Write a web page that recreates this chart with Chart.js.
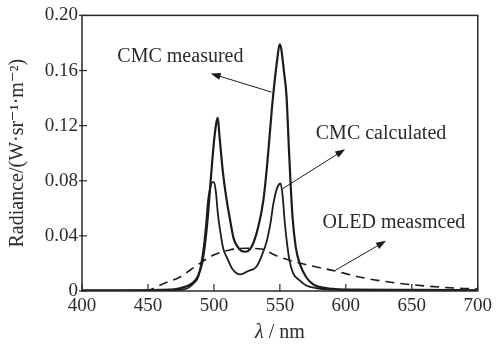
<!DOCTYPE html>
<html>
<head>
<meta charset="utf-8">
<script src="https://cdn.jsdelivr.net/npm/chart.js@4/dist/chart.umd.min.js"></script>
<style>
  html, body { margin: 0; padding: 0; background: #fff; }
  #wrap { width: 496px; height: 351px; }
</style>
</head>
<body>
<div id="wrap"><canvas id="spec"></canvas></div>
<script>
// wavelengths (nm) and radiance values
const measuredNm  = [400, 440, 460, 470, 478, 484, 488, 491, 493, 495.3, 497.7, 500, 502, 503, 504, 506.5, 508, 510, 512, 515, 518, 521, 524, 527, 530, 534, 537.5, 540, 542, 544, 546, 548, 549.8, 551, 553, 555, 557, 559.5, 562, 565, 570, 575, 580, 590, 600, 650, 700];
const measuredVal = [0.0005, 0.0005, 0.0008, 0.0012, 0.003, 0.006, 0.011, 0.02, 0.032, 0.053, 0.082, 0.108, 0.123, 0.1257, 0.115, 0.089, 0.077, 0.064, 0.053, 0.038, 0.032, 0.029, 0.0285, 0.03, 0.035, 0.048, 0.066, 0.088, 0.11, 0.133, 0.152, 0.168, 0.179, 0.176, 0.16, 0.142, 0.1, 0.055, 0.032, 0.02, 0.01, 0.005, 0.003, 0.0015, 0.001, 0.0008, 0.0005];

const calcNm  = [400, 460, 475, 480, 484, 488, 490, 492, 494, 495.5, 497, 499, 500, 501.5, 503, 505, 507, 510, 514, 520, 526, 532, 536, 540, 543, 545, 548, 550.5, 552, 553.6, 555.5, 557.3, 560, 564.7, 570, 578, 590, 650, 700];
const calcVal = [0.0003, 0.0005, 0.001, 0.002, 0.005, 0.01, 0.018, 0.03, 0.048, 0.065, 0.074, 0.079, 0.079, 0.072, 0.056, 0.042, 0.031, 0.024, 0.016, 0.012, 0.0145, 0.0174, 0.025, 0.036, 0.05, 0.063, 0.075, 0.078, 0.07, 0.051, 0.034, 0.022, 0.013, 0.0079, 0.004, 0.002, 0.001, 0.0005, 0.0003];

const oledNm  = [448, 452, 462, 474, 487, 499, 512, 524, 536, 547, 562, 592, 612, 637, 661, 686, 700];
const oledVal = [0, 0.001, 0.0055, 0.010, 0.0186, 0.0257, 0.0298, 0.031, 0.0305, 0.0257, 0.021, 0.0145, 0.0098, 0.006, 0.0036, 0.002, 0.0015];

const xTicks = [400, 450, 500, 550, 600, 650, 700];
const yTicks = [0, 0.04, 0.08, 0.12, 0.16, 0.20];

// callouts, in data units
const notes = [
  { text: 'CMC measured',   x: 426.8, y: 0.1664, from: [543.7, 0.1443], to: [497.5, 0.1579] },
  { text: 'CMC calculated', x: 577.2, y: 0.110,  from: [552.2, 0.0743], to: [599.5, 0.1029] },
  { text: 'OLED measmced',  x: 582.4, y: 0.0457, from: [592.0, 0.0150], to: [630.5, 0.0364] }
];

const SERIF = "'Liberation Serif', 'DejaVu Serif', serif";
const INK = '#1c1c1c';

function pts(xs, ys) {
  return xs.map((x, i) => ({ x: x, y: ys[i] }));
}

function arrow(ctx, x1, y1, x2, y2) {
  const a = Math.atan2(y2 - y1, x2 - x1);
  const len = 10, w = 3.5;
  ctx.beginPath();
  ctx.moveTo(x1, y1);
  ctx.lineTo(x2 - Math.cos(a) * len * 0.8, y2 - Math.sin(a) * len * 0.8);
  ctx.stroke();
  ctx.beginPath();
  ctx.moveTo(x2, y2);
  ctx.lineTo(x2 - Math.cos(a) * len - Math.sin(a) * w, y2 - Math.sin(a) * len + Math.cos(a) * w);
  ctx.lineTo(x2 - Math.cos(a) * len + Math.sin(a) * w, y2 - Math.sin(a) * len - Math.cos(a) * w);
  ctx.closePath();
  ctx.fill();
}

const decor = {
  id: 'decor',
  afterDatasetsDraw(chart) {
    const ctx = chart.ctx;
    const a = chart.chartArea;
    const xs = chart.scales.x, ys = chart.scales.y;
    ctx.save();
    // frame
    ctx.strokeStyle = '#2a2a2a';
    ctx.lineWidth = 1.5;
    ctx.strokeRect(a.left, a.top, a.right - a.left, a.bottom - a.top);
    // ticks
    ctx.lineWidth = 1.2;
    xTicks.forEach(v => {
      const p = xs.getPixelForValue(v);
      ctx.beginPath(); ctx.moveTo(p, a.bottom); ctx.lineTo(p, a.bottom - 7); ctx.stroke();
    });
    yTicks.forEach(v => {
      const p = ys.getPixelForValue(v);
      ctx.beginPath(); ctx.moveTo(a.left - 3, p); ctx.lineTo(a.left + 5, p); ctx.stroke();
    });
    // callouts
    ctx.fillStyle = '#2b2b2b';
    ctx.font = '20px ' + SERIF;
    ctx.textBaseline = 'alphabetic';
    ctx.textAlign = 'left';
    notes.forEach(n => {
      ctx.fillText(n.text, xs.getPixelForValue(n.x), ys.getPixelForValue(n.y));
    });
    ctx.strokeStyle = INK;
    ctx.fillStyle = INK;
    ctx.lineWidth = 1;
    notes.forEach(n => {
      arrow(ctx,
        xs.getPixelForValue(n.from[0]), ys.getPixelForValue(n.from[1]),
        xs.getPixelForValue(n.to[0]), ys.getPixelForValue(n.to[1]));
    });
    // y axis title
    ctx.fillStyle = '#2b2b2b';
    ctx.save();
    ctx.translate(18, (a.top + a.bottom) / 2);
    ctx.rotate(-Math.PI / 2);
    ctx.textAlign = 'center';
    ctx.textBaseline = 'middle';
    ctx.font = '20px ' + SERIF;
    ctx.fillText('Radiance/(W\u00b7sr\u207b\u00b9\u00b7m\u207b\u00b2)', 0, 0);
    ctx.restore();
    // x axis title
    const cx = (a.left + a.right) / 2;
    ctx.textBaseline = 'alphabetic';
    ctx.textAlign = 'left';
    ctx.font = 'italic 20px ' + SERIF;
    const lam = '\u03bb';
    const w1 = ctx.measureText(lam).width;
    ctx.font = '20px ' + SERIF;
    const rest = ' / nm';
    const w2 = ctx.measureText(rest).width;
    const x0 = cx - (w1 + w2) / 2;
    ctx.font = 'italic 20px ' + SERIF;
    ctx.fillText(lam, x0, 338);
    ctx.font = '20px ' + SERIF;
    ctx.fillText(rest, x0 + w1, 338);
    ctx.restore();
  }
};

new Chart(document.getElementById('spec'), {
  type: 'line',
  data: {
    datasets: [
      {
        label: 'CMC measured',
        data: pts(measuredNm, measuredVal),
        borderColor: INK,
        borderWidth: 2.2,
        pointRadius: 0,
        cubicInterpolationMode: 'monotone'
      },
      {
        label: 'CMC calculated',
        data: pts(calcNm, calcVal),
        borderColor: INK,
        borderWidth: 1.8,
        pointRadius: 0,
        cubicInterpolationMode: 'monotone'
      },
      {
        label: 'OLED measmced',
        data: pts(oledNm, oledVal),
        borderColor: INK,
        borderWidth: 1.6,
        borderDash: [9, 6],
        pointRadius: 0,
        cubicInterpolationMode: 'monotone'
      }
    ]
  },
  options: {
    responsive: true,
    maintainAspectRatio: false,
    animation: false,
    layout: { padding: { left: 0, right: 11, top: 11, bottom: 0 } },
    plugins: {
      legend: { display: false },
      tooltip: { enabled: false }
    },
    scales: {
      x: {
        type: 'linear',
        min: 400,
        max: 700,
        border: { display: false },
        grid: { display: false, drawTicks: false },
        afterBuildTicks: s => { s.ticks = xTicks.map(v => ({ value: v })); },
        afterFit: s => { s.height = 60; },
        ticks: {
          padding: 4,
          color: '#2b2b2b',
          font: { family: SERIF, size: 19 },
          callback: v => String(v)
        }
      },
      y: {
        min: 0,
        max: 0.2,
        border: { display: false },
        grid: { display: false, drawTicks: false },
        afterBuildTicks: s => { s.ticks = yTicks.map(v => ({ value: v })); },
        afterFit: s => { s.width = 82; },
        ticks: {
          padding: 4,
          color: '#2b2b2b',
          font: { family: SERIF, size: 19 },
          callback: v => v === 0 ? '0' : v.toFixed(2)
        }
      }
    }
  },
  plugins: [decor]
});
</script>
</body>
</html>
